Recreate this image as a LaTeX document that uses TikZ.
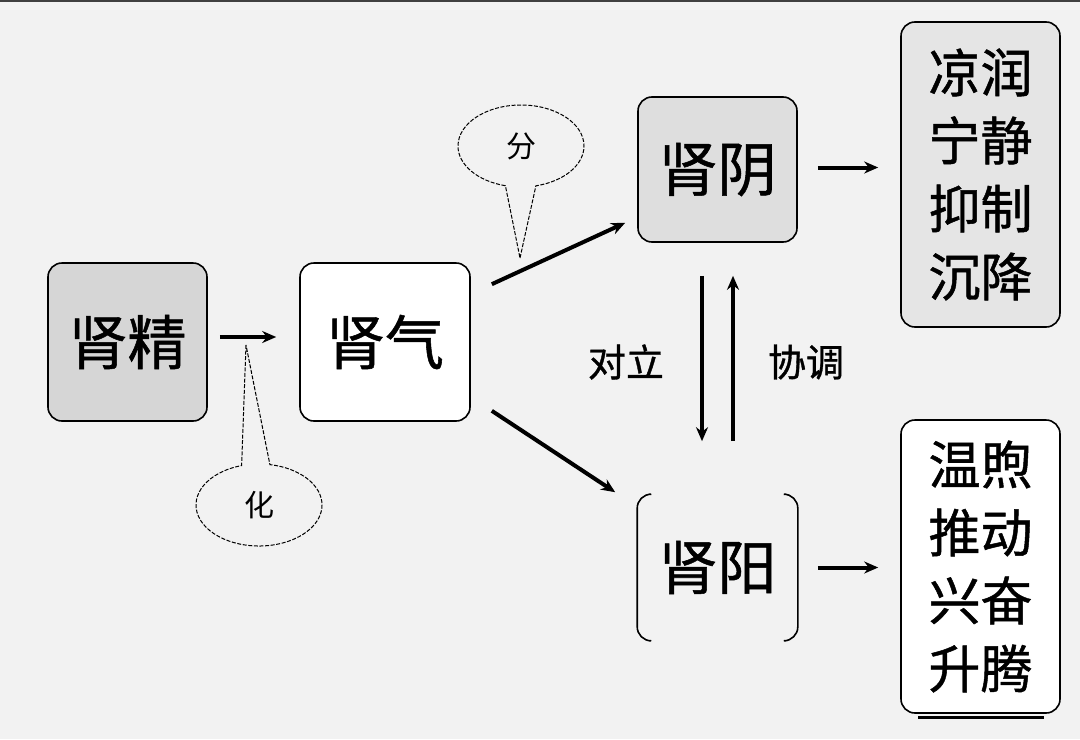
\documentclass[tikz,border=0pt]{standalone}
\usepackage{fontspec}
\setmainfont{Noto Sans CJK SC}
\newfontfamily\heavycjk{Noto Sans CJK SC}[FakeBold=0.9]
\usetikzlibrary{arrows.meta, positioning, calc, shapes.callouts}
\definecolor{PaperGray}{RGB}{242,242,242}
\definecolor{EssenceGray}{RGB}{214,214,214}
\definecolor{YinGray}{RGB}{222,222,222}
\definecolor{EffectGray}{RGB}{229,229,229}

\begin{document}
\begin{tikzpicture}[x=0.5pt, y=-0.5pt, >=Stealth, thick,
    box/.style={draw, line width=0.8pt, rounded corners=7pt, inner sep=0pt,
        minimum width=79.5pt, minimum height=79pt, font=\heavycjk\fontsize{29.5}{30}\selectfont},
    tallbox/.style={draw, line width=0.8pt, rounded corners=7pt, inner sep=0pt,
        minimum width=79.5pt, align=center, font=\heavycjk\fontsize{26}{34}\selectfont},
    link/.style={-{Stealth[length=7pt, width=6pt]}, line width=2pt},
    bubble/.style={ellipse callout, draw, line width=0.5pt, dash pattern=on 2pt off 0.8pt,
        fill=PaperGray, minimum width=63pt, minimum height=41pt, inner sep=0pt,
        font=\fontsize{15}{15}\selectfont}]
    \useasboundingbox (0,0) rectangle (1080,739);
    \fill [PaperGray] (0,0) rectangle (1080,739);
    \draw [line width=1.2pt, black!75] (0,1) -- (1080,1);

    % Kidney essence and kidney qi
    \node [box, fill=EssenceGray] (jing) at (127.5,342) {肾精};
    \node [box, fill=white, minimum width=85pt] (qi) at (385,342) {肾气};

    % Yin and yang
    \node [box, fill=YinGray, minimum height=72.5pt] (yin) at (717.5,169.5) {肾阴};
    \node [box, draw=none, minimum height=72.5pt] (yang) at (717.5,567.5) {肾阳};
    \draw [line width=0.8pt, rounded corners=7pt] ($(yang.north west)+(12,0)$) -- (yang.north west)
        -- (yang.south west) -- ($(yang.south west)+(12,0)$);
    \draw [line width=0.8pt, rounded corners=7pt] ($(yang.north east)+(-12,0)$) -- (yang.north east)
        -- (yang.south east) -- ($(yang.south east)+(-12,0)$);

    % Functions
    \node [tallbox, fill=EffectGray, minimum height=152.5pt] (yinfx) at (980.5,174.5)
        {凉润\\宁静\\抑制\\沉降};
    \node [tallbox, fill=white, minimum height=146.5pt] (yangfx) at (980.5,566.5)
        {温煦\\推动\\兴奋\\升腾};
    \draw [line width=1.5pt] ($(yangfx.south west)+(18,4)$) -- ($(yangfx.south east)+(-17,4)$);

    % Arrows
    \draw [link, shorten <=6pt, shorten >=11.5pt] ([yshift=2.5pt]jing.east) -- ([yshift=2.5pt]qi.west);
    \draw [link] ($(qi.north east)+(21,22)$) -- ($(yin.south west)+(-12,-20)$);
    \draw [link] ($(qi.south east)+(21,-11)$) -- ($(yang.north west)+(-22,-2)$);
    \draw [link, shorten <=10pt, shorten >=11pt] ([yshift=1pt]yin.east) -- ([yshift=1pt]yin.east -| yinfx.west);
    \draw [link, shorten <=10pt, shorten >=11pt] (yang.east) -- (yang.east -| yangfx.west);
    \draw [link] ($(yin.south)+(-15.5,33)$) -- ($(yang.north)+(-15.5,-53)$);
    \draw [link] ($(yang.north)+(15.5,-53)$) -- ($(yin.south)+(15.5,33)$);
    \node [font=\heavycjk\fontsize{19}{19}\selectfont] (oppose) at (626,362) {对立};
    \node [font=\heavycjk\fontsize{19}{19}\selectfont] (harmony) at (806,362) {协调};

    % Callouts
    \node [bubble, callout absolute pointer={(520,258)}, callout pointer arc=28] (fen) at (521,146) {分};
    \node [bubble, callout absolute pointer={(246,345)}, callout pointer arc=26] (hua) at (259,505) {化};
\end{tikzpicture}
\end{document}
